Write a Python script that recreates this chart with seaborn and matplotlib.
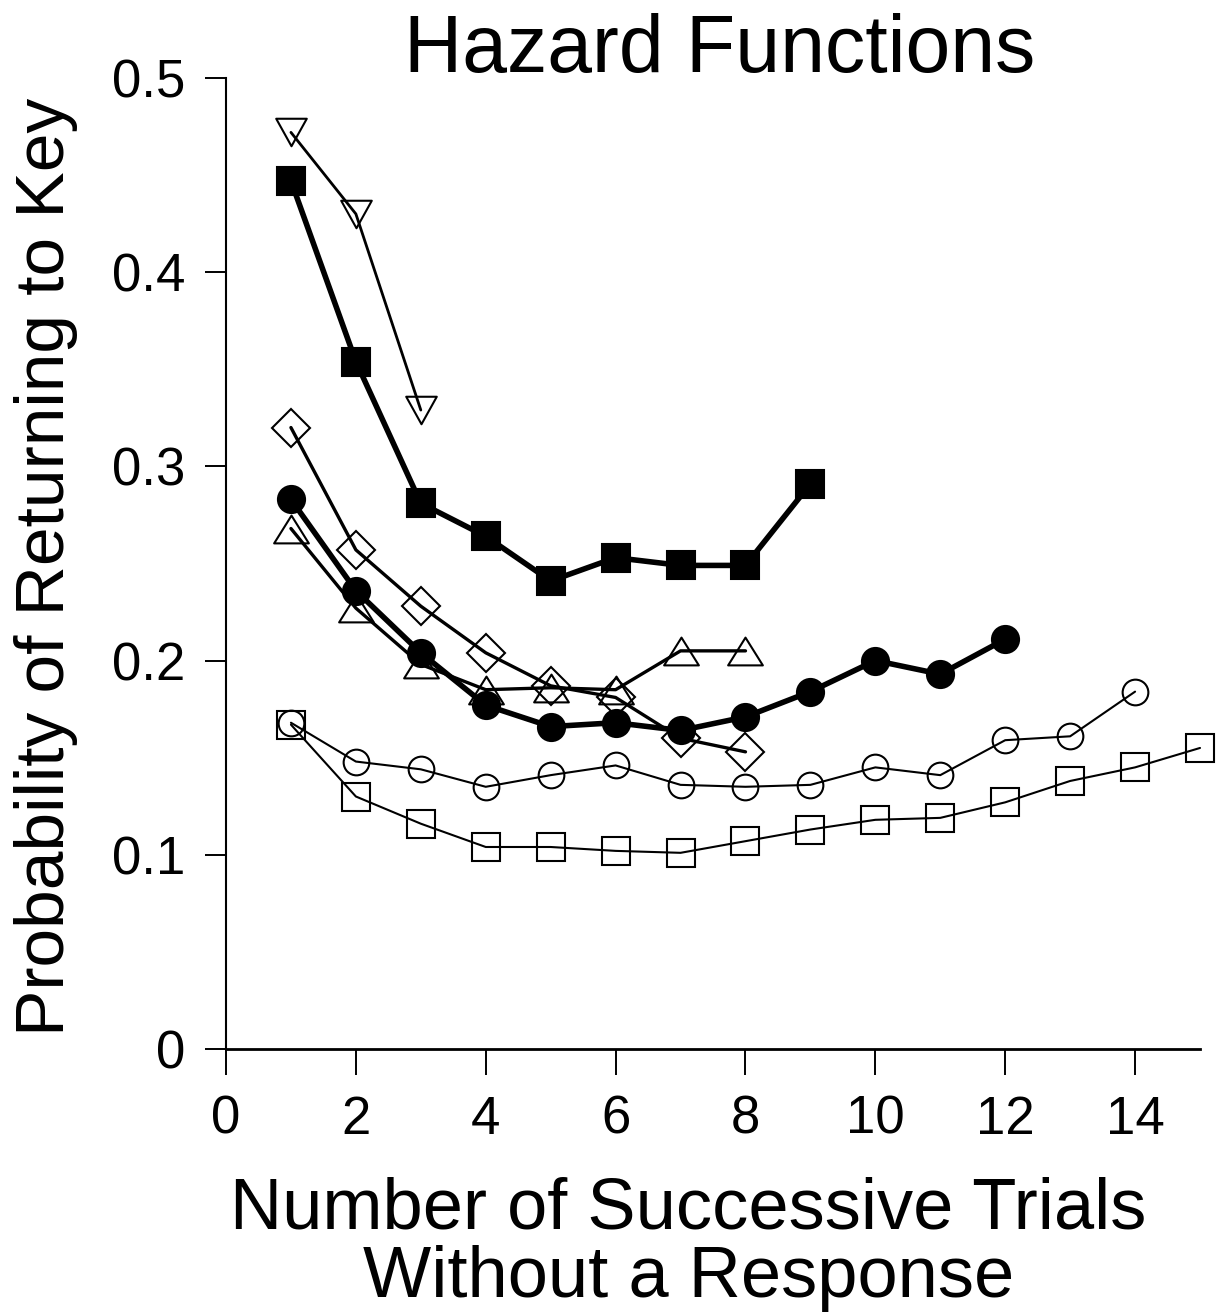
import matplotlib
matplotlib.use("Agg")
import matplotlib.pyplot as plt
import seaborn as sns
import pandas as pd
from matplotlib.path import Path

# Hazard function data: probability of returning to the key after n trials without a response
trials_down_tri = [1, 2, 3]
haz_down_tri = [0.472, 0.430, 0.329]

trials_filled_sq = [1, 2, 3, 4, 5, 6, 7, 8, 9]
haz_filled_sq = [0.447, 0.354, 0.281, 0.264, 0.241, 0.253, 0.249, 0.249, 0.291]

trials_diamond = [1, 2, 3, 4, 5, 6, 7, 8]
haz_diamond = [0.320, 0.257, 0.228, 0.204, 0.187, 0.181, 0.160, 0.153]

trials_up_tri = [1, 2, 3, 4, 5, 6, 7, 8]
haz_up_tri = [0.268, 0.227, 0.198, 0.185, 0.186, 0.185, 0.205, 0.205]

trials_filled_circ = [1, 2, 3, 4, 5, 6, 7, 8, 9, 10, 11, 12]
haz_filled_circ = [0.283, 0.236, 0.204, 0.177, 0.166, 0.168, 0.164, 0.171,
                   0.184, 0.200, 0.193, 0.211]

trials_open_circ = [1, 2, 3, 4, 5, 6, 7, 8, 9, 10, 11, 12, 13, 14]
haz_open_circ = [0.168, 0.148, 0.144, 0.135, 0.141, 0.146, 0.136, 0.135,
                 0.136, 0.145, 0.141, 0.159, 0.161, 0.184]

trials_open_sq = [1, 2, 3, 4, 5, 6, 7, 8, 9, 10, 11, 12, 13, 14, 15]
haz_open_sq = [0.167, 0.130, 0.116, 0.104, 0.104, 0.102, 0.101, 0.107,
               0.113, 0.118, 0.119, 0.127, 0.138, 0.145, 0.155]

x_ticks = [0, 2, 4, 6, 8, 10, 12, 14]
y_ticks = [0, 0.1, 0.2, 0.3, 0.4, 0.5]
y_tick_labels = ["0", "0.1", "0.2", "0.3", "0.4", "0.5"]

sns.set_style("ticks")
plt.rcParams["font.family"] = ["Liberation Sans", "DejaVu Sans"]
plt.rcParams["text.color"] = "black"
plt.rcParams["axes.labelcolor"] = "black"
plt.rcParams["xtick.color"] = "black"
plt.rcParams["ytick.color"] = "black"

# Squat triangles (wider than tall)
tri_up = Path([(0, 0.8), (-1, -0.8), (1, -0.8), (0, 0.8)],
              [Path.MOVETO, Path.LINETO, Path.LINETO, Path.CLOSEPOLY])
tri_down = Path([(0, -0.9), (-1, 0.9), (1, 0.9), (0, -0.9)],
                [Path.MOVETO, Path.LINETO, Path.LINETO, Path.CLOSEPOLY])

W, H = 1225, 1313
fig = plt.figure(figsize=(W / 100, H / 100), dpi=100)
ax = fig.add_axes([0.1845, 0.2011, 0.9796 - 0.1845, 0.9406 - 0.2011])

series = [
    # (x, y, marker, filled, line width, marker size)
    (trials_open_sq, haz_open_sq, "s", False, 1.5, 19.5),
    (trials_open_circ, haz_open_circ, "o", False, 1.5, 18.5),
    (trials_diamond, haz_diamond, "D", False, 2.4, 19),
    (trials_up_tri, haz_up_tri, tri_up, False, 2.4, 25),
    (trials_filled_circ, haz_filled_circ, "o", True, 4.0, 19.5),
    (trials_filled_sq, haz_filled_sq, "s", True, 4.0, 20),
    (trials_down_tri, haz_down_tri, tri_down, False, 2.0, 22),
]

for xs, ys, mk, filled, lw, ms in series:
    df = pd.DataFrame({"trial": xs, "hazard": ys})
    sns.lineplot(
        data=df, x="trial", y="hazard", ax=ax, color="black",
        linewidth=lw, marker=mk, markersize=ms,
        markerfacecolor="black" if filled else "none",
        markeredgecolor="black", markeredgewidth=1.5,
        clip_on=False,
    )

ax.set_xlim(0, 15)
ax.set_ylim(0, 0.5)
ax.set_xticks(x_ticks)
ax.set_yticks(y_ticks)
ax.set_yticklabels(y_tick_labels)
for lab in ax.get_xticklabels() + ax.get_yticklabels():
    lab.set_fontsize(38)

ax.tick_params(axis="both", direction="out", colors="black", width=1.4)
ax.tick_params(axis="x", length=19, pad=14)
ax.tick_params(axis="y", length=15, pad=14)

sns.despine(ax=ax)
ax.spines["left"].set_linewidth(1.5)
ax.spines["bottom"].set_linewidth(2.0)
for side in ("left", "bottom"):
    ax.spines[side].set_color("black")

ax.set_xlabel("Number of Successive Trials\nWithout a Response", fontsize=52,
              linespacing=1.03)
ax.xaxis.set_label_coords(0.475, -0.131)
ax.xaxis.label.set_va("top")
ax.set_ylabel("Probability of Returning to Key", fontsize=50)
ax.yaxis.set_label_coords(-0.152, 0.497)

fig.text(720 / W, 1 - 72 / H, "Hazard Functions", fontsize=58,
         ha="center", va="baseline")

fig.savefig("out.png", dpi=100, facecolor="white")
